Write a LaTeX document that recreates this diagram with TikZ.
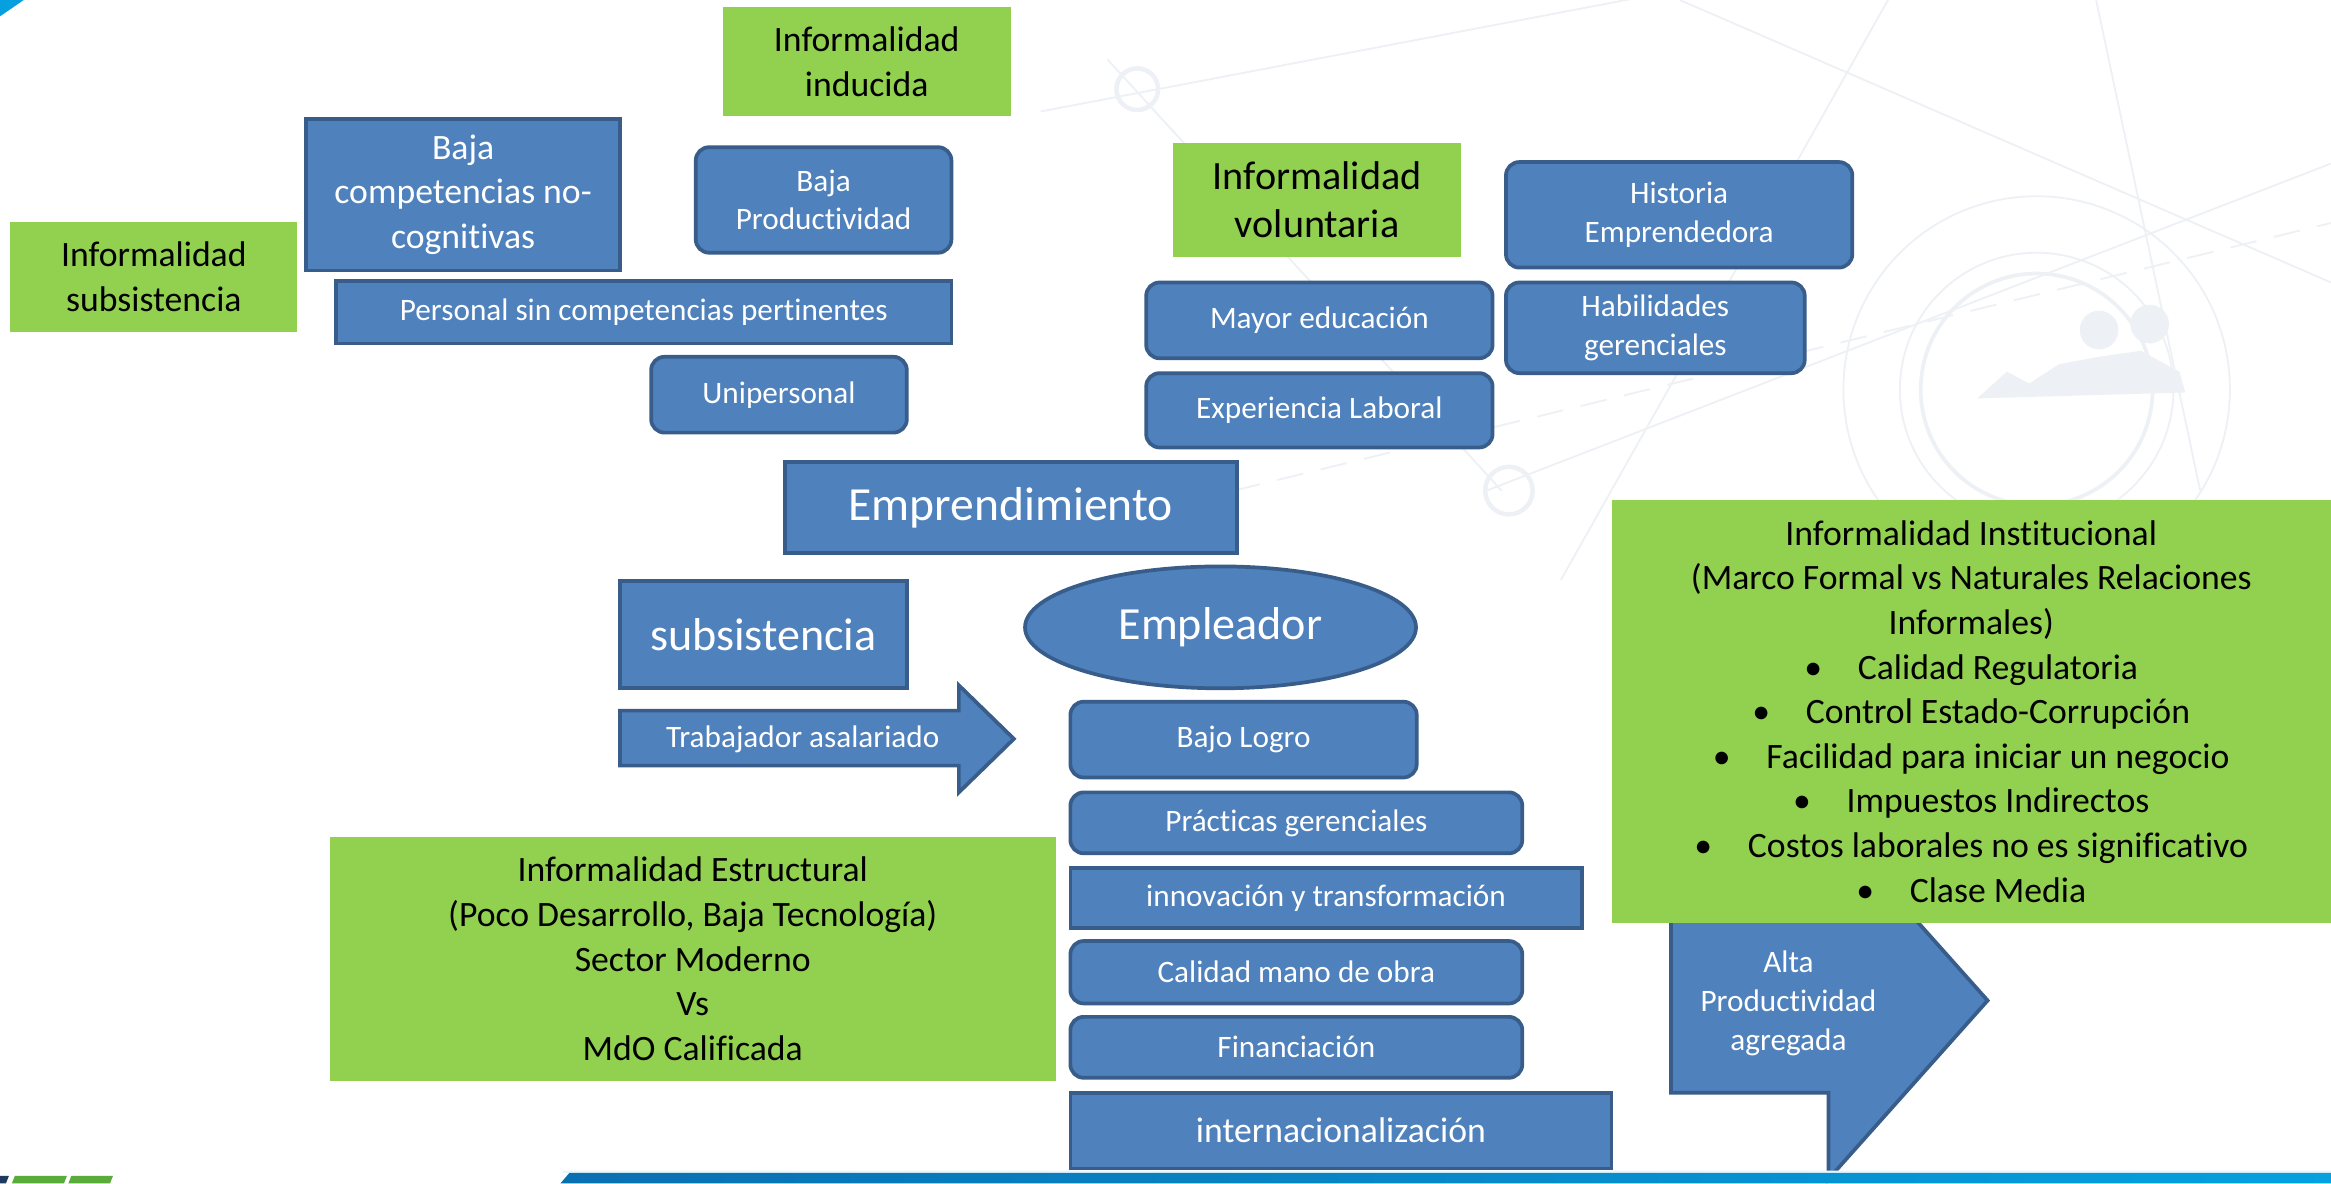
\documentclass[tikz,border=0pt]{standalone}
\usepackage{fontspec}
\setmainfont{Carlito}[Ligatures={NoCommon}]
\usetikzlibrary{shapes.geometric}
\definecolor{bfill}{HTML}{4F81BD}
\definecolor{bline}{HTML}{385D8A}
\definecolor{gfill}{HTML}{92D050}
\definecolor{wm}{HTML}{EDF0F4}
\definecolor{barL}{HTML}{0A6FB0}
\definecolor{barR}{HTML}{06A0DE}
\definecolor{logoD}{HTML}{1F3A5F}
\definecolor{logoG}{HTML}{5BAA3C}
\tikzset{
  wh/.style 2 args={minimum width=#1, minimum height=#2},
  bluebox/.style={draw=bline, fill=bfill, line width=2.5pt, text=white, align=center, inner sep=0pt, font=\fontsize{21}{26}\selectfont},
  rbluebox/.style={bluebox, rounded corners=9pt},
  greenbox/.style={fill=gfill, text=black, align=center, inner sep=0pt, font=\fontsize{24}{30}\selectfont},
  wmline/.style={draw=wm, line width=1.2pt},
}
\newcommand{\bul}[1]{\makebox[36pt][l]{\textbullet}#1}
\begin{document}
\begin{tikzpicture}[x=1pt,y=-1pt]
\useasboundingbox (0,0) rectangle (1568,796);
\fill[white] (0,0) rectangle (1568,796);
% faint watermark
\begin{scope}
\draw[wmline] (1370,262) circle (92);
\draw[wmline, line width=2.5pt] (1370,262) circle (78);
\draw[wmline] (1370,262) circle (130);
\draw[wmline] (700,75) -- (1120,-5);
\draw[wmline] (745,40) -- (1010,330);
\draw[wmline] (1130,0) -- (1568,190);
\draw[wmline] (1270,0) -- (1050,390);
\draw[wmline] (1410,0) -- (1480,330);
\draw[wmline] (1000,330) -- (1568,110);
\draw[wmline, dash pattern=on 18pt off 12pt] (830,330) -- (1568,150);
\fill[wm] (1412,222) circle (13);
\fill[wm] (1446,218) circle (13);
\fill[wm] (1330,268) -- (1350,250) -- (1365,258) -- (1385,245) -- (1412,240) -- (1440,236) -- (1466,250) -- (1470,264) -- cycle;
\draw[wmline, line width=3pt] (765,60) circle (14);
\draw[wmline, line width=3pt] (1015,330) circle (16);
\end{scope}

% green boxes
\node[greenbox, wh={194}{73}] (ginduc) at (583,41.5) {Informalidad\\inducida};
\node[greenbox, wh={193}{74}] (gsubs) at (103.5,186) {Informalidad\\subsistencia};
\node[greenbox, wh={194}{77}, font=\fontsize{27}{32}\selectfont] (gvol) at (886,134.5) {Informalidad\\voluntaria};

% blue boxes, upper left
\node[bluebox, wh={211}{102}, font=\fontsize{24}{30}\selectfont] (bcomp) at (311.5,131) {Baja\\competencias no-\\cognitivas};
\node[rbluebox, wh={172}{71}] (bprod) at (554,134.5) {Baja\\Productividad};
\node[bluebox, wh={414}{42}] (bpers) at (433,210) {Personal sin competencias pertinentes};
\node[rbluebox, wh={172}{51}] (buni) at (524,265.5) {Unipersonal};

% blue boxes, upper right
\node[rbluebox, wh={233}{51}] (bedu) at (887.5,215.5) {Mayor educación};
\node[rbluebox, wh={233}{50}] (bexp) at (887.5,276) {Experiencia Laboral};
\node[rbluebox, wh={233}{71}] (bhist) at (1129.5,144.5) {Historia\\Emprendedora};
\node[rbluebox, wh={201}{61}] (bhab) at (1113.5,220.5) {Habilidades\\gerenciales};

% centre
\node[bluebox, wh={304}{61}, font=\fontsize{32}{38}\selectfont] (bempr) at (680,341.5) {Emprendimiento};
\node[bluebox, wh={193}{72}, font=\fontsize{31}{36}\selectfont] (bsubs) at (513.5,427) {subsistencia};
\node[bluebox, ellipse, wh={263}{82}, font=\fontsize{31}{36}\selectfont] (eempl) at (821,422) {Empleador};

% arrow Trabajador asalariado
\path[draw=bline, fill=bfill, line width=2.5pt, line join=miter]
  (417,478) -- (645,478) -- (645,461) -- (682,497) -- (645,533) -- (645,515) -- (417,515) -- cycle;
\node[text=white, font=\fontsize{21}{26}\selectfont] (ttrab) at (540,497) {Trabajador asalariado};

% employer column
\node[rbluebox, wh={233}{51}] (blogro) at (836.5,497.5) {Bajo Logro};
\node[rbluebox, wh={304}{41}] (bpract) at (872,553.5) {Prácticas gerenciales};
\node[bluebox, wh={344}{40}] (binno) at (892,604) {innovación y transformación};
\node[rbluebox, wh={304}{42}] (bcal) at (872,654) {Calidad mano de obra};
\node[rbluebox, wh={304}{41}] (bfin) at (872,704.5) {Financiación};
\node[bluebox, wh={364}{51}, font=\fontsize{24}{30}\selectfont] (binter) at (902,760.5) {internacionalización};

% arrow Alta Productividad
\path[draw=bline, fill=bfill, line width=2.5pt, line join=miter]
  (1124,611) -- (1230,611) -- (1230,553) -- (1337,673) -- (1230,793) -- (1230,735) -- (1124,735) -- cycle;
\node[text=white, align=center, font=\fontsize{21}{26}\selectfont] (talta) at (1203,675) {Alta\\Productividad\\agregada};

% large green boxes
\node[greenbox, wh={488}{164}] (gestr) at (466,645) {Informalidad Estructural\\(Poco Desarrollo, Baja Tecnología)\\Sector Moderno\\Vs\\MdO Calificada};
\node[greenbox, wh={484}{285}] (ginst) at (1326,478.5) {Informalidad Institucional\\(Marco Formal vs Naturales Relaciones\\Informales)\\\bul{Calidad Regulatoria}\\\bul{Control Estado-Corrupción}\\\bul{Facilidad para iniciar un negocio}\\\bul{Impuestos Indirectos}\\\bul{Costos laborales no es significativo}\\\bul{Clase Media}};

% decorations: corner, bottom bar, logo fragment
\fill[barR] (0,0) -- (16,0) -- (0,11) -- cycle;
\fill[white!90!barR] (379,787.5) -- (1568,787.5) -- (1568,789) -- (378,789) -- cycle;
\shade[left color=barL, right color=barR] (383,789) -- (1568,789) -- (1568,796) -- (377,796) -- cycle;
\fill[logoD] (0,791) -- (6,791) -- (4,796) -- (0,796) -- cycle;
\fill[logoG] (10,791) -- (45,791) -- (43,796) -- (8,796) -- cycle;
\fill[logoG] (48,791) -- (76,791) -- (74,796) -- (46,796) -- cycle;
\end{tikzpicture}
\end{document}
